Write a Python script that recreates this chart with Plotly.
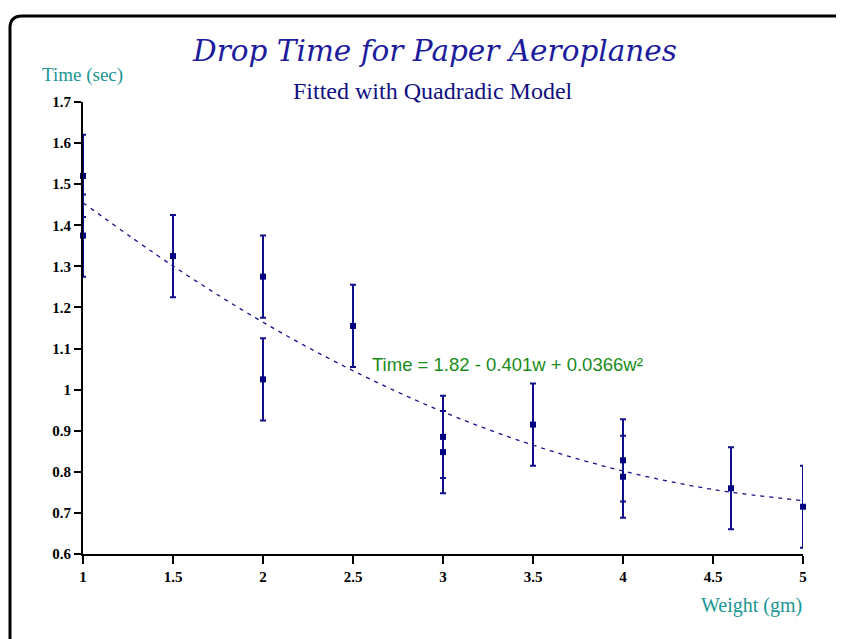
import plotly.graph_objects as go

# Observed data (weight in gm, drop time in sec), error +/- 0.1
weights = [1, 1, 1.5, 2, 2, 2.5, 3, 3, 3.5, 4, 4, 4.6, 5]
times = [1.52, 1.375, 1.325, 1.275, 1.025, 1.155, 0.885, 0.848, 0.915, 0.828, 0.788, 0.76, 0.715]
time_err = [0.1] * len(times)

# Fitted quadratic curve
fit_w = [1, 1.5, 2, 2.5, 3, 3.5, 4, 4.5, 5]
fit_t = [1.455, 1.301, 1.164, 1.046, 0.946, 0.865, 0.802, 0.757, 0.730]

x_ticks = [1, 1.5, 2, 2.5, 3, 3.5, 4, 4.5, 5]
x_tick_text = ["1", "1.5", "2", "2.5", "3", "3.5", "4", "4.5", "5"]
y_ticks = [0.6, 0.7, 0.8, 0.9, 1.0, 1.1, 1.2, 1.3, 1.4, 1.5, 1.6, 1.7]
y_tick_text = ["0.6", "0.7", "0.8", "0.9", "1", "1.1", "1.2", "1.3", "1.4", "1.5", "1.6", "1.7"]

NAVY = "#10108c"
TEAL = "#1a9696"
OFF = 8  # page body margin
W, H = 844, 639
ML, PW = 75, 720
MT, PH = 94, 452
MR = W - ML - PW
MB = H - MT - PH


def px(xs):
    return (xs - OFF - ML) / PW


def py(ys):
    return (H - MB - (ys - OFF)) / PH


fig = go.Figure()
fig.add_trace(go.Scatter(
    x=fit_w, y=fit_t, mode="lines", line=dict(color=NAVY, width=1.3, dash="4px,5px", shape="spline"),
    hoverinfo="skip", showlegend=False, cliponaxis=False,
))
fig.add_trace(go.Scatter(
    x=weights, y=times, mode="markers",
    marker=dict(symbol="square", size=6, color="#000080"),
    error_y=dict(type="data", array=time_err, visible=True, color=NAVY, thickness=2, width=3),
    showlegend=False, cliponaxis=False,
))

# rounded frame (top-left corner)
xl, xr = px(10), px(900)
yt, yb = py(16), py(700)
rx, ry = 12 / PW, 12 / PH
frame = f"M {xl},{yb} L {xl},{yt - ry} Q {xl},{yt} {xl + rx},{yt} L {xr},{yt}"

tick_font = dict(family="Liberation Serif", size=15, color="black", weight="bold")

fig.update_layout(
    width=W, height=H,
    margin=dict(l=ML, r=MR, t=MT, b=MB),
    paper_bgcolor="white", plot_bgcolor="white",
    shapes=[dict(type="path", path=frame, xref="paper", yref="paper",
                 line=dict(color="black", width=3))],
    annotations=[
        dict(text="Drop Time for Paper Aeroplanes", x=px(434), y=py(51), xref="paper", yref="paper",
             showarrow=False, font=dict(family="DejaVu Serif", size=29.5, color="#1c1c9c", style="italic"),
             xanchor="center", yanchor="middle"),
        dict(text="Fitted with Quadradic Model", x=px(433), y=py(91), xref="paper", yref="paper",
             showarrow=False, font=dict(family="Liberation Serif", size=24, color="#101080"),
             xanchor="center", yanchor="middle"),
        dict(text="Time (sec)", x=px(40), y=py(75), xref="paper", yref="paper",
             showarrow=False, font=dict(family="Liberation Serif", size=19, color=TEAL),
             xanchor="left", yanchor="middle"),
        dict(text="Weight (gm)", x=px(804), y=py(605), xref="paper", yref="paper",
             showarrow=False, font=dict(family="Liberation Serif", size=20, color=TEAL),
             xanchor="right", yanchor="middle"),
        dict(text="Time = 1.82 - 0.401w + 0.0366w²", x=px(370), y=py(364), xref="paper", yref="paper",
             showarrow=False, font=dict(family="Liberation Sans", size=18.5, color="#1a8c1a"),
             xanchor="left", yanchor="middle"),
    ],
    xaxis=dict(range=[1, 5], tickvals=x_ticks, ticktext=x_tick_text, showgrid=False, zeroline=False,
               showline=True, linecolor="black", linewidth=2, ticks="outside", ticklen=8, tickwidth=2,
               tickcolor="black", tickfont=tick_font),
    yaxis=dict(range=[0.6, 1.7], tickvals=y_ticks, ticktext=y_tick_text, showgrid=False, zeroline=False,
               showline=True, linecolor="black", linewidth=2, ticks="outside", ticklen=7, tickwidth=2,
               tickcolor="black", tickfont=tick_font),
)

fig.write_html("out.html")
